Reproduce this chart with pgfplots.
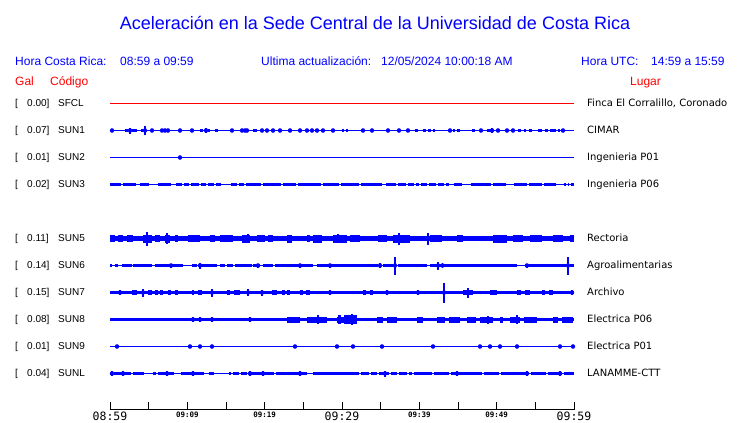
\documentclass[border=0pt]{standalone}
\usepackage{pgfplots}
\pgfplotsset{compat=1.18}
\usepackage{fontspec}
\setmainfont{Liberation Sans}
\newfontfamily\dejavu{DejaVu Sans}
\newfontfamily\mono{DejaVu Sans Mono}
\definecolor{sblue}{RGB}{0,0,255}
\definecolor{sred}{RGB}{255,0,0}
\newcommand\bigtick{\mono\fontsize{11.5}{12}\selectfont}
\newcommand\smalltick{\mono\bfseries\fontsize{7.5}{8}\selectfont}
\begin{document}
\begin{tikzpicture}[x=1pt,y=1pt]
\useasboundingbox (0,0) rectangle (740,-423);
\fill[white] (0,0) rectangle (740,-423);
\node[anchor=base, text=sblue, font=\fontsize{18}{20}\selectfont, inner sep=0] at (375,-29) {Aceleración en la Sede Central de la Universidad de Costa Rica};
\begin{scope}[every node/.style={anchor=base west, inner sep=0, text=sblue, font=\fontsize{12}{14}\selectfont}]
\node at (15,-65) {Hora Costa Rica:};
\node at (120,-65) {08:59 a 09:59};
\node at (261,-65) {Ultima actualización:};
\node at (381,-65) {12/05/2024 10:00:18 AM};
\node at (581,-65) {Hora UTC:};
\node at (651,-65) {14:59 a 15:59};
\node[text=sred] at (15,-85) {Gal};
\node[text=sred] at (50,-85) {Código};
\node[text=sred] at (630,-85) {Lugar};
\end{scope}
\begin{scope}[every node/.style={anchor=base west, inner sep=0, font=\fontsize{10}{12}\selectfont}]
\foreach \yy/\g/\c/\l in {103/0.00/SFCL/{Finca El Corralillo, Coronado},130/0.07/SUN1/CIMAR,157/0.01/SUN2/Ingenieria P01,184/0.02/SUN3/Ingenieria P06,238/0.11/SUN5/Rectoria,265/0.14/SUN6/Agroalimentarias,292/0.15/SUN7/Archivo,319/0.08/SUN8/Electrica P06,346/0.01/SUN9/Electrica P01,373/0.04/SUNL/LANAMME-CTT}{
\node at (15,-\yy-3.6) {[};
\node at (27,-\yy-3.6) {\g]};
\node at (58,-\yy-3.6) {\c};
\node[font=\dejavu\fontsize{10}{12}\selectfont] at (587,-\yy-3.6) {\l};
}
\end{scope}
\begin{axis}[at={(110pt,-409.5pt)}, anchor=south west, scale only axis,
  width=464pt, height=319pt, xmin=0, xmax=60, ymin=-409, ymax=-90,
  axis x line*=bottom, axis y line=none, clip=false,
  axis line style={black, line width=1pt},
  xtick={0,5,...,60}, ytick=\empty,
  tick align=inside, major tick length=8pt,
  major tick style={black, line width=1pt},
  xticklabels={{\bigtick 08:59},{},{\smalltick 09:09},{},{\smalltick 09:19},{},{\bigtick 09:29},{},{\smalltick 09:39},{},{\smalltick 09:49},{},{\bigtick 09:59}},
  xticklabel style={anchor=north, inner sep=0pt, yshift=-2.5pt},
  unbounded coords=jump,
  spk/.style={sblue, only marks, mark=none, error bars/.cd, y dir=both, y explicit, error mark=none, error bar style={line width=1.5pt}},
  tiny spk/.style={sblue, only marks, mark=none, error bars/.cd, y dir=both, y explicit, error mark=none, error bar style={line width=1pt}},
]
% SFCL
\addplot[sred, line width=1pt] coordinates {(0,-103) (60,-103)};
% SUN1
\addplot[sblue, line width=1pt] coordinates {(0,-130) (60,-130)};
\addplot[sblue, line width=3.5pt] coordinates {(1.94,-130)(2.33,-130)(2.5,nan)(2.84,-130)(3.49,-130)(3.6,nan)(4.01,-130)(4.27,-130)(5,nan)(11.64,-130)(12.03,-130)(12.3,nan)(12.67,-130)(12.93,-130)(13.2,nan)(13.58,-130)(13.96,-130)(15,nan)(18.49,-130)(19.01,-130)(20,nan)(30.00,-130)(30.26,-130)(30.4,nan)(30.51,-130)(30.77,-130)(35,nan)(39.44,-130)(39.82,-130)(40,nan)(40.47,-130)(40.86,-130)(41,nan)(41.12,-130)(41.51,-130)(41.6,nan)(41.77,-130)(42.02,-130)(43,nan)(44.35,-130)(44.61,-130)(44.7,nan)(44.87,-130)(45.26,-130)(46,nan)(46.81,-130)(47.19,-130)(48,nan)(48.75,-130)(49.52,-130)(50,nan)(52.75,-130)(53.14,-130)(53.3,nan)(53.53,-130)(53.79,-130)(54,nan)(54.18,-130)(54.56,-130)(55,nan)(55.34,-130)(55.86,-130)(56,nan)(56.25,-130)(56.63,-130)(56.7,nan)(56.89,-130)(57.67,-130)(57.8,nan)(57.93,-130)(58.19,-130)};
\addplot[spk] coordinates {(0.26,-130)+-(0,1.5)(2.59,-130)+-(0,3)(4.53,-130)+-(0,4.5)(5.43,-130)+-(0,1.5)(6.72,-130)+-(0,1.2)(7.11,-130)+-(0,1.2)(7.50,-130)+-(0,1.5)(9.05,-130)+-(0,1.5)(10.60,-130)+-(0,1.5)(12.41,-130)+-(0,2.5)(15.78,-130)+-(0,1.2)(17.07,-130)+-(0,1.2)(17.46,-130)+-(0,1.2)(17.72,-130)+-(0,1.2)(19.66,-130)+-(0,1.2)(20.30,-130)+-(0,1.2)(21.08,-130)+-(0,1.2)(21.98,-130)+-(0,1.2)(23.28,-130)+-(0,1.2)(24.57,-130)+-(0,1.5)(25.47,-130)+-(0,1.5)(26.12,-130)+-(0,1.2)(26.77,-130)+-(0,1.2)(27.54,-130)+-(0,1.5)(28.84,-130)+-(0,1.5)(32.71,-130)+-(0,1.5)(33.88,-130)+-(0,1.5)(35.95,-130)+-(0,1.5)(37.37,-130)+-(0,1.5)(38.53,-130)+-(0,1.5)(43.97,-130)+-(0,1.5)(47.97,-130)+-(0,1.5)(49.40,-130)+-(0,2.5)(50.17,-130)+-(0,1.5)(51.34,-130)+-(0,1.5)(52.11,-130)+-(0,1.5)(58.58,-130)+-(0,1.5)};
% SUN2
\addplot[sblue, line width=1pt] coordinates {(0,-157) (60,-157)};
\addplot[tiny spk] coordinates {(9.05,-157)+-(0,1)};
% SUN3
\addplot[sblue, line width=1pt] coordinates {(0,-184) (60,-184)};
\addplot[sblue, line width=3.4pt] coordinates {(0,-184)(1.42,-184)(1.5,nan)(1.68,-184)(3.36,-184)(3.5,nan)(3.88,-184)(5.04,-184)(5.5,nan)(6.21,-184)(7.89,-184)(8,nan)(8.53,-184)(9.31,-184)(9.4,nan)(9.57,-184)(10.22,-184)(10.3,nan)(10.47,-184)(11.51,-184)(11.6,nan)(11.77,-184)(12.41,-184)(12.5,nan)(12.67,-184)(13.45,-184)(13.5,nan)(13.71,-184)(14.35,-184)(15,nan)(15.65,-184)(16.42,-184)(16.5,nan)(16.68,-184)(17.33,-184)(17.4,nan)(17.59,-184)(19.53,-184)(19.6,nan)(19.78,-184)(22.11,-184)(22.2,nan)(22.37,-184)(24.05,-184)(24.1,nan)(24.31,-184)(27.28,-184)(27.4,nan)(27.54,-184)(29.61,-184)(29.7,nan)(29.87,-184)(32.20,-184)(32.3,nan)(32.46,-184)(35.17,-184)(35.4,nan)(35.69,-184)(36.98,-184)(37.1,nan)(37.24,-184)(38.28,-184)(38.4,nan)(38.53,-184)(39.31,-184)(39.4,nan)(39.57,-184)(39.96,-184)(40.1,nan)(40.22,-184)(40.99,-184)(41.1,nan)(41.25,-184)(42.16,-184)(42.3,nan)(42.41,-184)(43.19,-184)(43.3,nan)(43.45,-184)(43.84,-184)(44.1,nan)(44.48,-184)(45.52,-184)(46,nan)(46.68,-184)(49.27,-184)(49.4,nan)(49.53,-184)(51.21,-184)(51.7,nan)(52.24,-184)(53.92,-184)(54,nan)(54.18,-184)(55.86,-184)(56,nan)(56.12,-184)(57.67,-184)(58,nan)(58.71,-184)(58.97,-184)(59.1,nan)(59.22,-184)(59.35,-184)(59.5,nan)(59.61,-184)(60,-184)};
% SUN5
\addplot[sblue, line width=4.6pt] coordinates {(0,-238) (60,-238)};
\addplot[sblue, line width=6.4pt] coordinates {(0,-238)(0.65,-238)(0.8,nan)(1.03,-238)(1.68,-238)(2,nan)(2.20,-238)(2.97,-238)(4,nan)(5.82,-238)(6.47,-238)(7,nan)(8.41,-238)(8.79,-238)(9,nan)(10.09,-238)(11.64,-238)(12,nan)(12.93,-238)(13.58,-238)(14,nan)(14.22,-238)(15.90,-238)(17,nan)(19.01,-238)(20.04,-238)(20.2,nan)(20.43,-238)(21.08,-238)(22,nan)(25.47,-238)(25.86,-238)(28,nan)(31.03,-238)(32.33,-238)(33,nan)(34.65,-238)(35.82,-238)(38,nan)(41.38,-238)(42.93,-238)(44,nan)(44.87,-238)(45.65,-238)(48,nan)(52.11,-238)(53.40,-238)(54,nan)(54.31,-238)(55.86,-238)(57,nan)(57.28,-238)(58.58,-238)(59,nan)(59.48,-238)(60,-238)};
\addplot[sblue, line width=8pt] coordinates {(4.27,-238)(5.43,-238)(6,nan)(7.11,-238)(7.76,-238)(10,nan)(17.07,-238)(18.10,-238)(20,nan)(22.89,-238)(23.53,-238)(25,nan)(26.25,-238)(27.41,-238)(28,nan)(28.84,-238)(30.65,-238)(33,nan)(36.59,-238)(38.79,-238)(45,nan)(49.53,-238)(51.34,-238)};
\addplot[spk] coordinates {(4.78,-238)+-(0,7)(7.37,-238)+-(0,5.3)(17.84,-238)+-(0,4.8)(29.48,-238)+-(0,4.8)(37.37,-238)+-(0,6)(41.12,-238)+-(0,6)};
% SUN6
\addplot[sblue, line width=1pt] coordinates {(0,-265) (60,-265)};
\addplot[sblue, line width=2.6pt] coordinates {(0,-265)(0.26,-265)(0.4,nan)(0.65,-265)(1.03,-265)(1.2,nan)(1.55,-265)(2.84,-265)(2.9,nan)(2.97,-265)(5.43,-265)(5.6,nan)(5.82,-265)(9.44,-265)(10,nan)(10.60,-265)(11.25,-265)(11.3,nan)(11.38,-265)(13.84,-265)(14,nan)(14.22,-265)(14.87,-265)(15,nan)(15.13,-265)(15.90,-265)(16,nan)(16.16,-265)(18.36,-265)(18.4,nan)(18.49,-265)(19.40,-265)(19.6,nan)(19.78,-265)(21.08,-265)(21.2,nan)(21.34,-265)(26.25,-265)(26.5,nan)(26.77,-265)(34.65,-265)(35,nan)(35.30,-265)(36.59,-265)(37,nan)(37.24,-265)(40.99,-265)(41.2,nan)(41.38,-265)(52.63,-265)(53,nan)(53.66,-265)(59.09,-265)(59.3,nan)(59.48,-265)(60,-265)};
\addplot[spk] coordinates {(7.89,-265)+-(0,2)(11.64,-265)+-(0,3)(19.14,-265)+-(0,2)(24.57,-265)+-(0,2)(28.45,-265)+-(0,2)(34.91,-265)+-(0,2.5)(36.85,-265)+-(0,9)(42.41,-265)+-(0,4)(43.0,-265)+-(0,2.5)(53.92,-265)+-(0,2)(59.22,-265)+-(0,9)};
% SUN7
\addplot[sblue, line width=2.8pt] coordinates {(0,-292) (60,-292)};
\addplot[sblue, line width=5pt] coordinates {(2.84,-292)(3.49,-292)(4,nan)(4.91,-292)(5.43,-292)(5.6,nan)(5.82,-292)(6.21,-292)(6.3,nan)(6.47,-292)(6.85,-292)(7,nan)(7.50,-292)(7.89,-292)(8,nan)(8.41,-292)(8.79,-292)(9,nan)(10.60,-292)(10.86,-292)(11,nan)(11.38,-292)(11.90,-292)(12,nan)(15.13,-292)(15.52,-292)(15.7,nan)(16.03,-292)(16.81,-292)(18,nan)(20.95,-292)(21.59,-292)(22,nan)(22.24,-292)(22.63,-292)(22.7,nan)(22.89,-292)(23.28,-292)(24,nan)(24.57,-292)(24.96,-292)(25,nan)(25.34,-292)(25.86,-292)(30,nan)(32.71,-292)(33.10,-292)(33.3,nan)(33.62,-292)(34.01,-292)(40,nan)(45.65,-292)(46.94,-292)(48,nan)(49.14,-292)(50.04,-292)(51,nan)(52.63,-292)(53.14,-292)(53.3,nan)(53.66,-292)(54.31,-292)(55,nan)(55.86,-292)(56.25,-292)(56.5,nan)(56.77,-292)(57.28,-292)};
\addplot[spk] coordinates {(1.29,-292)+-(0,2.5)(4.27,-292)+-(0,4)(13.19,-292)+-(0,4)(17.84,-292)+-(0,3.5)(19.66,-292)+-(0,3)(28.45,-292)+-(0,2.5)(35.82,-292)+-(0,2.2)(39.83,-292)+-(0,2.2)(43.19,-292)+-(0,10)(46.29,-292)+-(0,5)(59.74,-292)+-(0,2.5)};
% SUN8
\addplot[sblue, line width=3.4pt] coordinates {(0,-319) (60,-319)};
\addplot[sblue, line width=6pt] coordinates {(22.89,-319)(24.57,-319)(25,nan)(25.47,-319)(28.06,-319)(28.5,nan)(29.35,-319)(30.77,-319)(32,nan)(34.52,-319)(35.30,-319)(35.5,nan)(35.82,-319)(37.11,-319)(38,nan)(39.70,-319)(40.47,-319)(41,nan)(42.28,-319)(43.32,-319)(43.5,nan)(43.84,-319)(45.26,-319)(45.6,nan)(46.16,-319)(47.32,-319)(47.5,nan)(47.84,-319)(49.52,-319)(50,nan)(50.43,-319)(50.82,-319)(51,nan)(51.72,-319)(53.02,-319)(53.2,nan)(53.53,-319)(55.21,-319)(56,nan)(57.28,-319)(57.93,-319)(58,nan)(58.45,-319)(59.87,-319)};
\addplot[sblue, line width=8.5pt] coordinates {(29.48,-319)(29.87,-319)(30,nan)(30.26,-319)(31.94,-319)};
\addplot[spk] coordinates {(10.73,-319)+-(0,2.5)(11.64,-319)+-(0,2.5)(13.19,-319)+-(0,2.5)(18.10,-319)+-(0,2.5)(26.90,-319)+-(0,4.5)(31.29,-319)+-(0,5.5)(48.88,-319)+-(0,4)(52.63,-319)+-(0,4.5)};
% SUN9
\addplot[sblue, line width=1pt] coordinates {(0,-346) (60,-346)};
\addplot[tiny spk] coordinates {(0.91,-346)+-(0,1.2)(10.34,-346)+-(0,1.2)(11.64,-346)+-(0,1.2)(13.19,-346)+-(0,1.2)(23.92,-346)+-(0,1.2)(29.35,-346)+-(0,1.2)(31.42,-346)+-(0,1.2)(35.17,-346)+-(0,1.2)(41.77,-346)+-(0,1.2)(47.84,-346)+-(0,1.2)(49.14,-346)+-(0,1.2)(50.43,-346)+-(0,1.2)(52.63,-346)+-(0,1.2)(58.19,-346)+-(0,1.2)(59.87,-346)+-(0,1.2)};
% SUNL
\addplot[sblue, line width=1pt] coordinates {(0,-373) (60,-373)};
\addplot[sblue, line width=3.4pt] coordinates {(0,-373)(0.26,-373)(0.4,nan)(0.52,-373)(2.72,-373)(2.8,nan)(2.97,-373)(4.40,-373)(5,nan)(5.56,-373)(5.95,-373)(6.1,nan)(6.21,-373)(8.28,-373)(9,nan)(9.18,-373)(12.16,-373)(12.5,nan)(12.80,-373)(13.45,-373)(14,nan)(15.39,-373)(15.65,-373)(15.8,nan)(15.90,-373)(16.68,-373)(16.8,nan)(16.94,-373)(17.72,-373)(18,nan)(18.23,-373)(21.21,-373)(21.3,nan)(21.47,-373)(25.47,-373)(26,nan)(26.25,-373)(32.20,-373)(32.3,nan)(32.46,-373)(33.49,-373)(33.6,nan)(33.75,-373)(34.52,-373)(34.6,nan)(34.78,-373)(36.07,-373)(36.2,nan)(36.33,-373)(37.11,-373)(37.2,nan)(37.37,-373)(38.41,-373)(38.5,nan)(38.66,-373)(39.05,-373)(39.2,nan)(39.31,-373)(41.64,-373)(41.8,nan)(41.90,-373)(43.84,-373)(44,nan)(44.09,-373)(48.10,-373)(48.2,nan)(48.36,-373)(50.30,-373)(50.4,nan)(50.56,-373)(54.18,-373)(54.3,nan)(54.44,-373)(56.38,-373)(56.5,nan)(56.63,-373)(58.45,-373)(58.6,nan)(58.71,-373)(60,-373)};
\addplot[spk] coordinates {(0.26,-373)+-(0,2.5)(1.68,-373)+-(0,2.5)(7.37,-373)+-(0,2.5)(10.73,-373)+-(0,2.5)(18.10,-373)+-(0,2.5)(19.78,-373)+-(0,2.5)(24.57,-373)+-(0,2.5)(35.56,-373)+-(0,3)(44.87,-373)+-(0,2.5)(53.92,-373)+-(0,2.5)(58.19,-373)+-(0,2.5)};
\end{axis}
\end{tikzpicture}
\end{document}
